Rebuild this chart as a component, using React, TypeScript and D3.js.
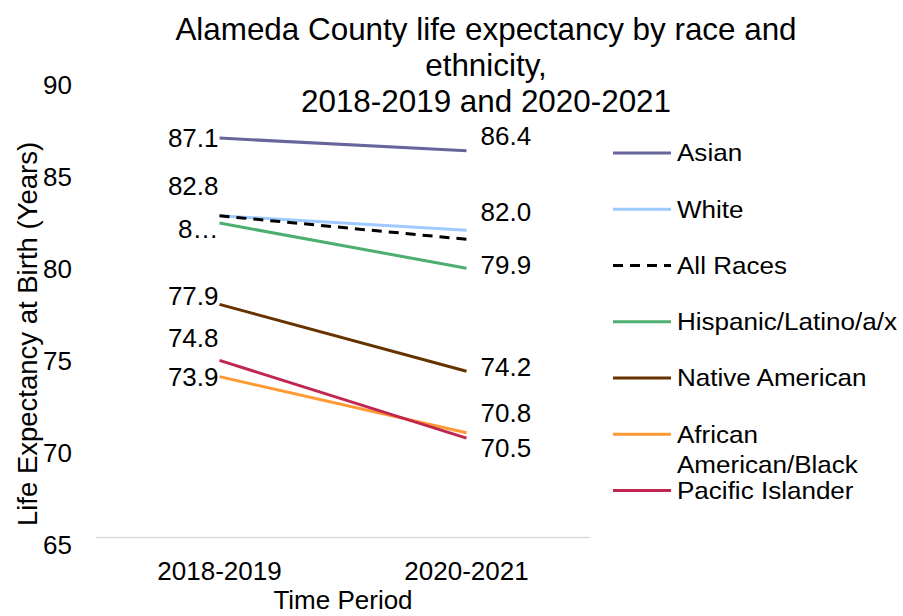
import React from "react";
import * as d3 from "d3";

const periods = ["2018-2019", "2020-2021"];
const seriesNames = ["Asian", "White", "All Races", "Hispanic/Latino/a/x", "Native American", "African American/Black", "Pacific Islander"];
const asian = [87.1, 86.4];
const white = [82.8, 82.0];
const allRaces = [82.8, 81.5];
const hispanic = [82.4, 79.9];
const nativeAm = [77.9, 74.2];
const african = [73.9, 70.8];
const pacific = [74.8, 70.5];
const colors = ["#67659c", "#9dcbff", "#000000", "#4caf6f", "#663300", "#ff9933", "#c0264f"];
const yTicks = [65, 70, 75, 80, 85, 90];
// data labels: [left text, right text] (null = not shown)
const leftLabels = ["87.1", "82.8", null, "8…", "77.9", "73.9", "74.8"];
const rightLabels = ["86.4", "82.0", null, "79.9", "74.2", "70.8", "70.5"];
const leftLabelShift = [0, -30, 0, 6, -8, 0, -22];
const rightLabelShift = [-15, -18, 0, -3, -4, -20, 10];

const W = 903, H = 616;
const font = "Liberation Sans, Arial, sans-serif";

export default function App() {
  const values = [asian, white, allRaces, hispanic, nativeAm, african, pacific];
  const x = d3.scaleBand().domain(periods).range([96, 590]);
  const y = d3.scaleLinear().domain([65, 90]).range([537.5, 85.7]);
  const yLab = d3.scaleLinear().domain([65, 90]).range([545, 85]);
  const cx = (p: string) => (x(p) as number) + x.bandwidth() / 2;
  const line = d3.line<[string, number]>().x((d) => cx(d[0])).y((d) => y(d[1]));
  const legendY = d3.scaleLinear().domain([0, 6]).range([153, 490.5]);
  const fs = 26;

  return (
    <svg width={W} height={H} style={{ position: "absolute", left: 0, top: 0, background: "#fff" }} fontFamily={font}>
      <rect width={W} height={H} fill="#fff" />
      {/* title */}
      <text x={486} fontSize={31.4} textAnchor="middle" fill="#000">
        <tspan x={486} y={40}>Alameda County life expectancy by race and</tspan>
        <tspan x={486} y={76}>ethnicity,</tspan>
        <tspan x={486} y={112}>2018-2019 and 2020-2021</tspan>
      </text>
      {/* baseline gridline */}
      <line x1={96} x2={590} y1={y(65)} y2={y(65)} stroke="#d9d9d9" strokeWidth={1.5} />
      {/* y tick labels */}
      {yTicks.map((t) => (
        <text key={t} x={72} y={yLab(t)} dy="0.35em" fontSize={fs} textAnchor="end" fill="#000">{t}</text>
      ))}
      {/* x tick labels */}
      {periods.map((p) => (
        <text key={p} x={cx(p)} y={571} dy="0.35em" fontSize={fs} textAnchor="middle" fill="#000">{p}</text>
      ))}
      <text x={343} y={600} dy="0.35em" fontSize={fs} textAnchor="middle" fill="#000">Time Period</text>
      <text transform={`translate(37,334) rotate(-90)`} fontSize={27.5} textAnchor="middle" fill="#000">Life Expectancy at Birth (Years)</text>
      {/* lines */}
      {values.map((v, i) => (
        <path key={i} d={line(periods.map((p, j) => [p, v[j]] as [string, number])) || ""} fill="none" stroke={colors[i]}
          strokeWidth={3} strokeDasharray={i === 2 ? "10,7" : undefined} />
      ))}
      {/* data labels */}
      {values.map((v, i) => (
        <g key={"l" + i}>
          {leftLabels[i] && (
            <text x={cx(periods[0]) - 1} y={y(v[0]) + leftLabelShift[i]} dy="0.35em" fontSize={fs} textAnchor="end" fill="#000">{leftLabels[i]}</text>
          )}
          {rightLabels[i] && (
            <text x={cx(periods[1]) + 14} y={y(v[1]) + rightLabelShift[i]} dy="0.35em" fontSize={fs} textAnchor="start" fill="#000">{rightLabels[i]}</text>
          )}
        </g>
      ))}
      {/* legend */}
      {seriesNames.map((n, i) => (
        <g key={"lg" + i}>
          <line x1={613} x2={671} y1={legendY(i)} y2={legendY(i)} stroke={colors[i]} strokeWidth={3}
            strokeDasharray={i === 2 ? "10,7" : undefined} />
          <g transform={`translate(677,${legendY(i)}) scale(1.085,1)`}>
            {n === "African American/Black" ? (
              <text x={0} y={0} dy="0.35em" fontSize={24} fill="#000">
                <tspan x={0}>African</tspan>
                <tspan x={0} dy="30">American/Black</tspan>
              </text>
            ) : (
              <text x={0} y={0} dy="0.35em" fontSize={24} fill="#000">{n}</text>
            )}
          </g>
        </g>
      ))}
    </svg>
  );
}
